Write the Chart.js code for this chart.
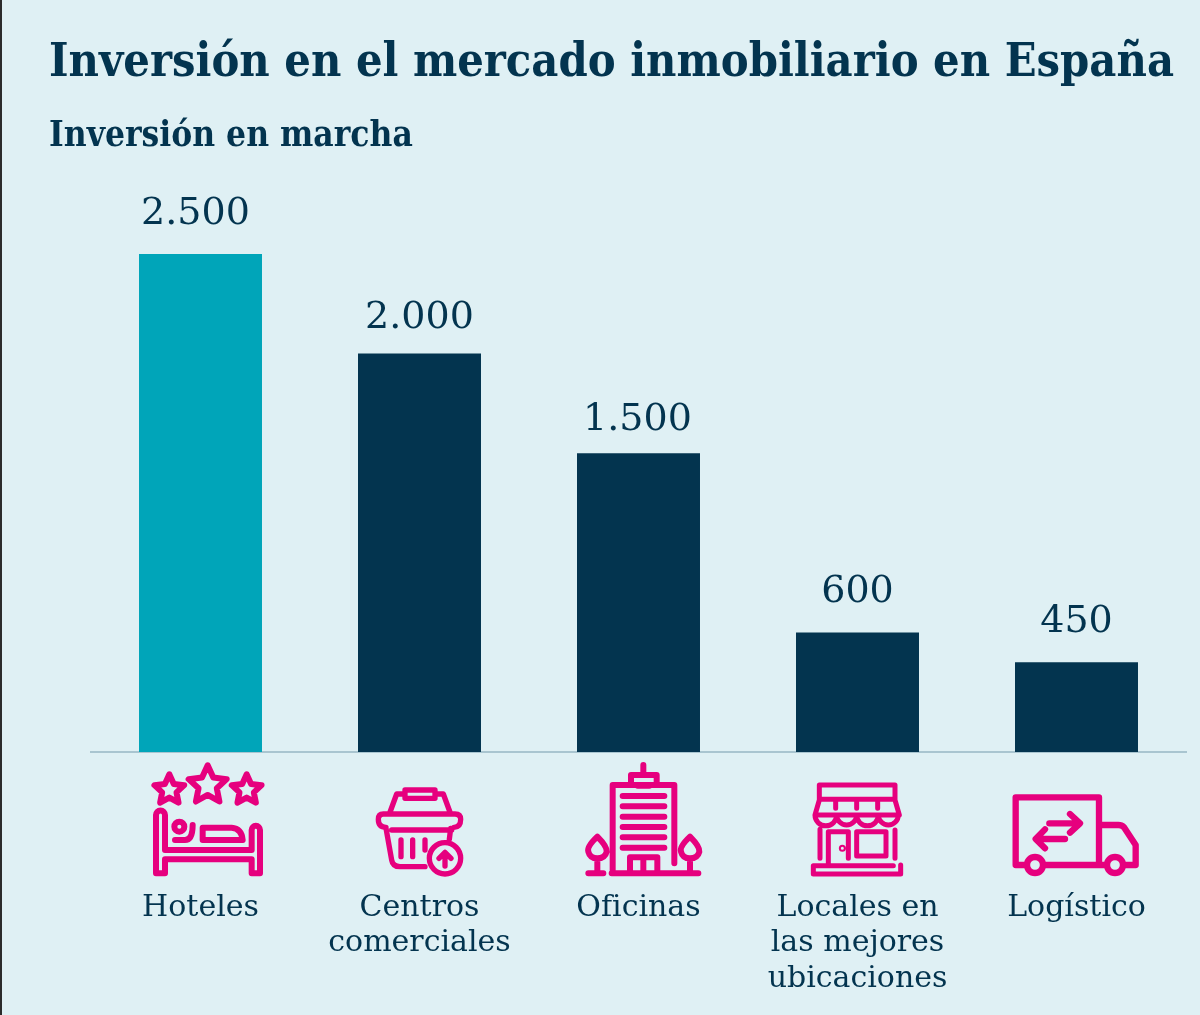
<!DOCTYPE html>
<html lang="es">
<head>
<meta charset="utf-8">
<title>Inversión en el mercado inmobiliario en España</title>
<script src="https://cdn.jsdelivr.net/npm/chart.js@4"></script>
<style>
  html, body { margin: 0; padding: 0; background: #dff0f4; }
  #wrap { position: relative; width: 1200px; height: 1015px; overflow: hidden; }
  #wrap:before { content: ""; position: absolute; left: 0; top: 0; width: 2px; height: 100%; background: #2b2b2b; z-index: 2; }
</style>
</head>
<body>
<div id="wrap"><canvas id="myChart" width="1200" height="1015"></canvas></div>
<script>
// chart data
const titleText = 'Inversión en el mercado inmobiliario en España';
const subtitleText = 'Inversión en marcha';
const categories = [
    ['Hoteles'],
    ['Centros', 'comerciales'],
    ['Oficinas'],
    ['Locales en', 'las mejores', 'ubicaciones'],
    ['Logístico']
];
const values = [2500, 2000, 1500, 600, 450];
const valueLabels = ['2.500', '2.000', '1.500', '600', '450'];

// colours
const navy = '#03344f';
const teal = '#00a5b9';
const pink = '#e6007e';
const barColors = [teal, navy, navy, navy, navy];

// small nudges for the value labels, the original is not regular here
const labelGap = [40, 35, 33, 40, 40];
const labelShift = [-5, 0, -1, 0, 0];

// icons are traced at 3x, so they get scaled down when drawn
function star(cx, cy, r) {
    let d = '';
    for (let i = 0; i < 10; i++) {
        let rad = i % 2 ? r * 0.48 : r;
        let a = -Math.PI / 2 + i * Math.PI / 5;
        d += (i ? 'L' : 'M') + (cx + rad * Math.cos(a)).toFixed(1) + ' ' + (cy + rad * Math.sin(a)).toFixed(1);
    }
    return d + 'Z ';
}
function circle(cx, cy, r) {
    return `M${cx - r} ${cy} a${r} ${r} 0 1 0 ${2 * r} 0 a${r} ${r} 0 1 0 ${-2 * r} 0Z `;
}
const icons = [
    { dx: -70.5, dy: -2, width: 18, path:
        star(118, 120, 47) + star(233, 106, 60) + star(350, 120, 47) +
        'M78 370 H105 V328 H365 V370 H390 V240 a12 12 0 0 0 -25 0 V300 H105 V195 a13 13 0 0 0 -27 0 Z ' +
        circle(148, 230, 15) + 'M135 270 H165 Q188 270 188 225 ' +
        'M218 270 V233 H305 Q335 235 338 270 Z' },
    { dx: -289.5, dy: -2, width: 16, path:
        'M825 120 H915 V145 H825 Z M825 132 H800 L778 192 M915 132 H940 L962 192 ' +
        'M760 192 H975 Q992 192 992 208 Q992 232 972 232 M940 192 M760 192 Q745 192 745 208 Q745 232 768 232 ' +
        'M785 240 H965 M768 235 L785 330 Q788 350 810 350 H885 M962 235 L958 268 ' +
        'M813 270 V320 M848 270 V320 M885 270 V300 ' +
        circle(945, 325, 47) + 'M945 348 V310 M927 325 L945 307 L963 325' },
    { dx: -68.5, dy: -2, width: 18, path:
        'M220 45 V75 M183 100 V75 H260 V100 M128 370 V105 H313 V340 M125 370 H385 ' +
        'M203 107 H238 M158 138 H283 M158 169 H283 M158 200 H283 M158 231 H283 M158 262 H283 M158 293 H283 ' +
        'M180 370 V322 H262 V370 M220 330 V370 ' +
        'M82 260 Q50 290 55 305 Q60 325 82 325 Q105 325 110 305 Q112 290 82 260 Z M82 325 V365 M55 370 H100 ' +
        'M360 260 Q328 290 333 305 Q338 325 360 325 Q383 325 388 305 Q390 290 360 260 Z M360 325 V370' },
    { dx: -287.5, dy: -2, width: 15, path:
        'M748 105 H975 V148 H748 Z M748 150 L735 195 M975 150 L988 195 M735 195 H985 ' +
        'M735 195 a32 32 0 0 0 65 0 a30 30 0 0 0 60 0 a32 32 0 0 0 65 0 a30 30 0 0 0 60 0 ' +
        'M797 150 V175 M860 150 V175 M923 150 V175 ' +
        'M750 238 V325 M975 240 V325 M775 340 V245 H835 V325 ' + circle(817, 295, 3) +
        'M860 245 H948 V318 H860 Z M992 345 V372 H730 V347 H970' },
    { dx: -76.5, dy: -12, width: 19, path:
        'M80 375 H47 V172 H297 V375 M135 375 H315 M375 375 H407 V315 L372 262 Q365 255 355 255 H300 ' +
        circle(105, 375, 24) + circle(345, 375, 24) +
        'M148 250 H235 M210 222 L240 250 L210 278 M195 297 H110 M135 268 L107 297 L135 325' }
];

// writes the number above each bar and the icon under each category
const extrasPlugin = {
    id: 'extras',
    afterDatasetsDraw(chart) {
        let ctx = chart.ctx;
        let bars = chart.getDatasetMeta(0).data;
        let xScale = chart.scales.x;
        ctx.save();
        ctx.fillStyle = navy;
        ctx.font = '38px "DejaVu Serif"';
        ctx.textAlign = 'center';
        ctx.textBaseline = 'middle';
        bars.forEach((bar, i) => {
            ctx.fillText(valueLabels[i], bar.x + labelShift[i], bar.y - labelGap[i]);
        });
        ctx.restore();

        icons.forEach((icon, i) => {
            ctx.save();
            ctx.translate(xScale.getPixelForTick(i) + icon.dx, chart.chartArea.bottom + icon.dy);
            ctx.scale(1 / 3, 1 / 3);
            ctx.strokeStyle = pink;
            ctx.lineWidth = icon.width;
            ctx.lineJoin = 'round';
            ctx.lineCap = 'round';
            ctx.stroke(new Path2D(icon.path));
            ctx.restore();
        });
    }
};

let ctx = document.getElementById('myChart').getContext('2d');
let myChart = new Chart(ctx, {
    type: 'bar',
    plugins: [extrasPlugin],
    data: {
        labels: categories,
        datasets: [{
            data: values,
            backgroundColor: barColors,
            barPercentage: 0.5616,
            categoryPercentage: 1
        }]
    },
    options: {
        responsive: false,
        animation: false,
        layout: { padding: { left: 49, right: 14, top: 0, bottom: 0 } },
        plugins: {
            legend: { display: false },
            tooltip: { enabled: false },
            title: {
                display: true,
                text: titleText,
                align: 'start',
                color: navy,
                font: { family: '"DejaVu Serif Condensed"', size: 46.5, weight: 'bold', lineHeight: 1 },
                padding: { top: 41, bottom: 32 }
            },
            subtitle: {
                display: true,
                text: subtitleText,
                align: 'start',
                color: navy,
                font: { family: '"DejaVu Serif Condensed"', size: 35, weight: 'bold', lineHeight: 1 },
                padding: { top: 0, bottom: 99.5 }
            }
        },
        scales: {
            x: {
                grid: { display: false, drawTicks: false },
                border: { color: '#a9c5d0', width: 2 },
                afterFit(scale) {
                    scale.height = 263;
                    scale.paddingLeft = 0;
                    scale.paddingRight = 0;
                },
                ticks: {
                    color: navy,
                    autoSkip: false,
                    maxRotation: 0,
                    padding: 139,
                    font: { family: '"DejaVu Serif"', size: 30, lineHeight: 1.17 }
                }
            },
            y: {
                min: 0,
                max: 2500,
                grid: { display: false },
                border: { display: false },
                ticks: { display: false },
                afterFit(scale) { scale.width = 42; }
            }
        }
    }
});
</script>
</body>
</html>
